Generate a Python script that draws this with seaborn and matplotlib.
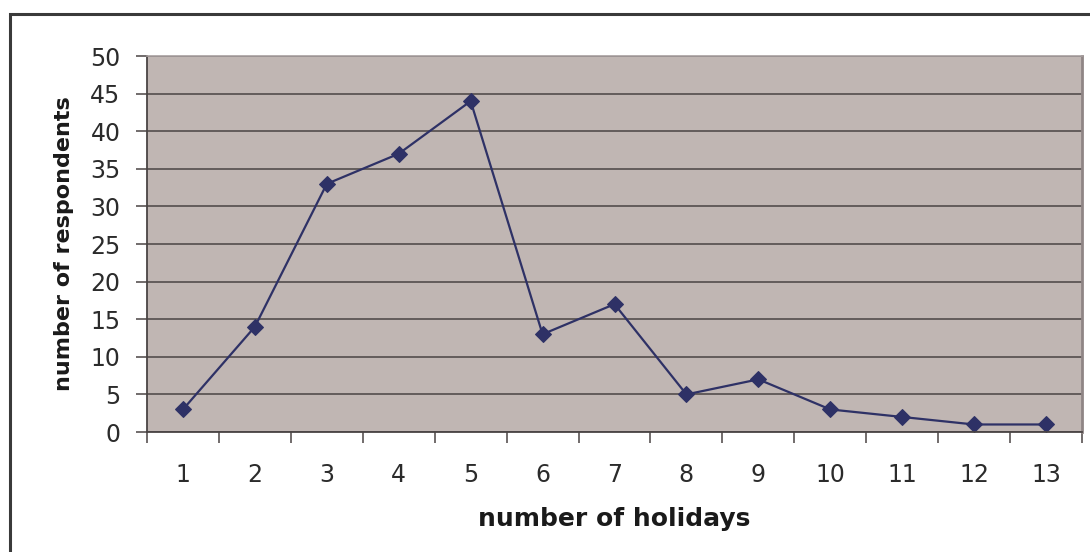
import matplotlib
matplotlib.use("Agg")
import matplotlib.pyplot as plt
import seaborn as sns
import pandas as pd
from matplotlib.patches import Rectangle
from matplotlib.ticker import FixedLocator, NullFormatter

holidays = [1, 2, 3, 4, 5, 6, 7, 8, 9, 10, 11, 12, 13]
respondents = [3, 14, 33, 37, 44, 13, 17, 5, 7, 3, 2, 1, 1]
y_ticks = [0, 5, 10, 15, 20, 25, 30, 35, 40, 45, 50]

sns.set_theme(style="white")
plt.rcParams["font.family"] = ["DejaVu Sans"]

df = pd.DataFrame({"holidays": holidays, "respondents": respondents})

fig = plt.figure(figsize=(10.9, 5.52), dpi=100)
fig.patch.set_facecolor("white")

# outer chart frame
fig.add_artist(Rectangle((10 / 1090, -0.05), 1.2, (552 - 14) / 552 + 0.05,
                         transform=fig.transFigure, fill=False,
                         edgecolor="#3a3a3a", linewidth=2.2))

ax = fig.add_axes([147 / 1090, 120 / 552, 935 / 1090, 376 / 552])
ax.set_facecolor("#C0B6B3")

sns.lineplot(data=df, x="holidays", y="respondents", ax=ax,
             color="#2E3166", linewidth=1.6, marker="D", markersize=8,
             markeredgecolor="#2E3166", markerfacecolor="#2E3166")

ax.set_xlim(0.5, 13.5)
ax.set_ylim(0, 50)
ax.set_yticks(y_ticks)
ax.yaxis.grid(True, color="#4A4444", linewidth=1.1)
ax.set_axisbelow(True)

# category labels centered, tick marks on category boundaries
ax.set_xticks(holidays)
ax.set_xticklabels([str(h) for h in holidays])
ax.xaxis.set_minor_locator(FixedLocator([h + 0.5 for h in range(0, 14)]))
ax.xaxis.set_minor_formatter(NullFormatter())
ax.tick_params(axis="x", which="major", length=0, pad=22,
               labelsize=17, labelcolor="#2b2b2b")
ax.tick_params(axis="x", which="minor", length=8, width=1.1,
               color="#4A4444", direction="out", bottom=True)
ax.tick_params(axis="y", which="major", length=8, width=1.1,
               color="#4A4444", direction="out", left=True, pad=11,
               labelsize=17, labelcolor="#2b2b2b")

for side in ("left", "bottom"):
    ax.spines[side].set_color("#4A4444")
    ax.spines[side].set_linewidth(1.3)
ax.spines["top"].set_color("#a8a0a0")
ax.spines["top"].set_linewidth(1.2)
ax.spines["right"].set_color("#8f8585")
ax.spines["right"].set_linewidth(2.0)

ax.set_xlabel("number of holidays", fontsize=18, fontweight="bold",
              color="#1a1a1a", labelpad=15)
ax.set_ylabel("number of respondents", fontsize=16, fontweight="bold",
              color="#1a1a1a", labelpad=12)

fig.savefig("out.png", dpi=100)
